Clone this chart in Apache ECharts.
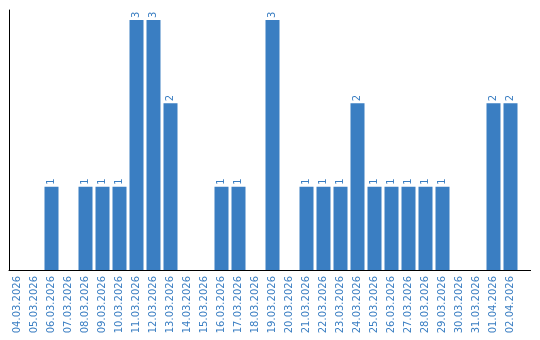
<!DOCTYPE html>
<html>
<head>
<meta charset="utf-8">
<script src="https://cdn.jsdelivr.net/npm/echarts@6/dist/echarts.min.js"></script>
<style>html,body{margin:0;padding:0;background:#fff}#c{width:540px;height:340px}</style>
</head>
<body>
<div id="c"></div>
<script>
const categories = ["04.03.2026","05.03.2026","06.03.2026","07.03.2026","08.03.2026","09.03.2026","10.03.2026","11.03.2026","12.03.2026","13.03.2026","14.03.2026","15.03.2026","16.03.2026","17.03.2026","18.03.2026","19.03.2026","20.03.2026","21.03.2026","22.03.2026","23.03.2026","24.03.2026","25.03.2026","26.03.2026","27.03.2026","28.03.2026","29.03.2026","30.03.2026","31.03.2026","01.04.2026","02.04.2026"];
const counts = [0,0,1,0,1,1,1,3,3,2,0,0,1,1,0,3,0,1,1,1,2,1,1,1,1,1,0,0,2,2];

const blue = '#3a7ec2';
const chart = echarts.init(document.getElementById('c'));
chart.setOption({
  animation: false,
  grid: {left: 9, top: 10, width: 510, bottom: 70, containLabel: false},
  xAxis: {
    type: 'category',
    data: categories,
    axisLine: {lineStyle: {color: '#000', width: 1}},
    axisTick: {show: false},
    axisLabel: {rotate: 90, color: blue, fontFamily: 'DejaVu Sans', fontSize: 10, margin: 6, interval: 0}
  },
  yAxis: {
    type: 'value',
    min: 0,
    max: 3.12,
    axisLine: {show: true, lineStyle: {color: '#000', width: 1}},
    axisTick: {show: false},
    axisLabel: {show: false},
    splitLine: {show: false}
  },
  graphic: [{
    type: 'line',
    shape: {x1: 519, y1: 270.5, x2: 531, y2: 270.5},
    style: {stroke: '#000', lineWidth: 1}
  }],
  series: [{
    type: 'bar',
    data: counts.map(v => v === 0 ? null : v),
    barWidth: 14,
    itemStyle: {color: blue},
    label: {
      show: true,
      position: 'top',
      rotate: 90,
      align: 'left',
      verticalAlign: 'middle',
      distance: 2,
      color: blue,
      fontFamily: 'DejaVu Sans',
      fontSize: 10
    }
  }]
});
</script>
</body>
</html>
